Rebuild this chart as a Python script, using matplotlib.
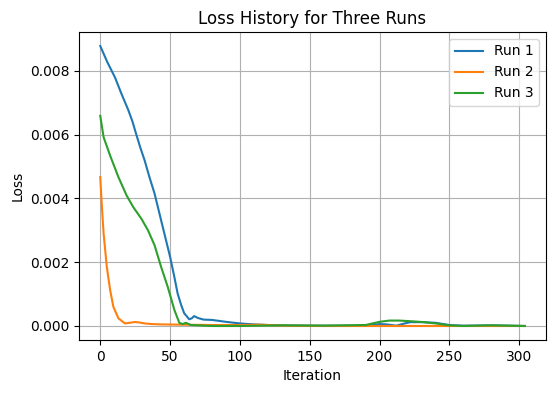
import numpy as np
import matplotlib
matplotlib.use("Agg")
import matplotlib.pyplot as plt

# values (loss in units of 1e-3)
iter_run1 = [0, 5, 10.6, 15, 20, 23, 25.5, 28.5, 31.8, 35, 38.9, 43.6, 50, 53, 55.4,
             58, 60.1, 63.7, 65.5, 67.2, 70, 74, 80, 90, 100, 110, 120, 130, 150, 180,
             195, 200, 205, 212, 218, 222, 230, 240, 250, 260, 280, 304]
loss_run1 = [8.78, 8.28, 7.79, 7.3, 6.78, 6.42, 6.05, 5.62, 5.19, 4.7, 4.15, 3.31,
             2.17, 1.55, 1.02, 0.65, 0.4, 0.21, 0.24, 0.31, 0.25, 0.2, 0.19, 0.13,
             0.08, 0.05, 0.03, 0.02, 0.01, 0.01, 0.03, 0.06, 0.05, 0.01, 0.08, 0.12,
             0.12, 0.1, 0.03, 0.01, 0.02, 0.0]

iter_run2 = [0, 1.2, 2.4, 4.7, 7.1, 9.4, 13, 17.7, 21, 24.8, 28, 31.8, 37, 43.6, 60,
             80, 100, 115, 130, 160, 200, 250, 304]
loss_run2 = [4.67, 3.73, 2.9, 1.85, 1.12, 0.6, 0.24, 0.08, 0.1, 0.125, 0.11, 0.08,
             0.06, 0.05, 0.04, 0.03, 0.03, 0.04, 0.01, 0.0, 0.0, 0.0, 0.0]

iter_run3 = [0, 2.4, 7.1, 13, 18.9, 23.6, 29.5, 34.2, 38.9, 43.6, 48.3, 53.1, 56.6, 59,
             61.3, 64.9, 80, 100, 130, 160, 175, 190, 195, 200, 207, 214, 222, 232,
             242, 250, 260, 280, 304]
loss_run3 = [6.59, 5.92, 5.34, 4.67, 4.09, 3.73, 3.36, 3.0, 2.53, 1.85, 1.23, 0.5, 0.1,
             0.06, 0.1, 0.03, 0.0, 0.0, 0.02, 0.01, 0.02, 0.03, 0.08, 0.13, 0.17, 0.17,
             0.15, 0.12, 0.07, 0.02, 0.0, 0.02, 0.0]

runs = [("Run 1", iter_run1, loss_run1),
        ("Run 2", iter_run2, loss_run2),
        ("Run 3", iter_run3, loss_run3)]

fig = plt.figure(figsize=(5.53, 3.93), dpi=100)
ax = fig.add_axes([0.1429, 0.1349, 0.8445, 0.7837])

for label, it, loss in runs:
    ax.plot(it, np.array(loss) * 1e-3, label=label)

ax.set_title("Loss History for Three Runs")
ax.set_xlabel("Iteration")
ax.set_ylabel("Loss")
ax.legend(loc="upper right")
ax.grid(True)

fig.savefig("out.png", dpi=100)
